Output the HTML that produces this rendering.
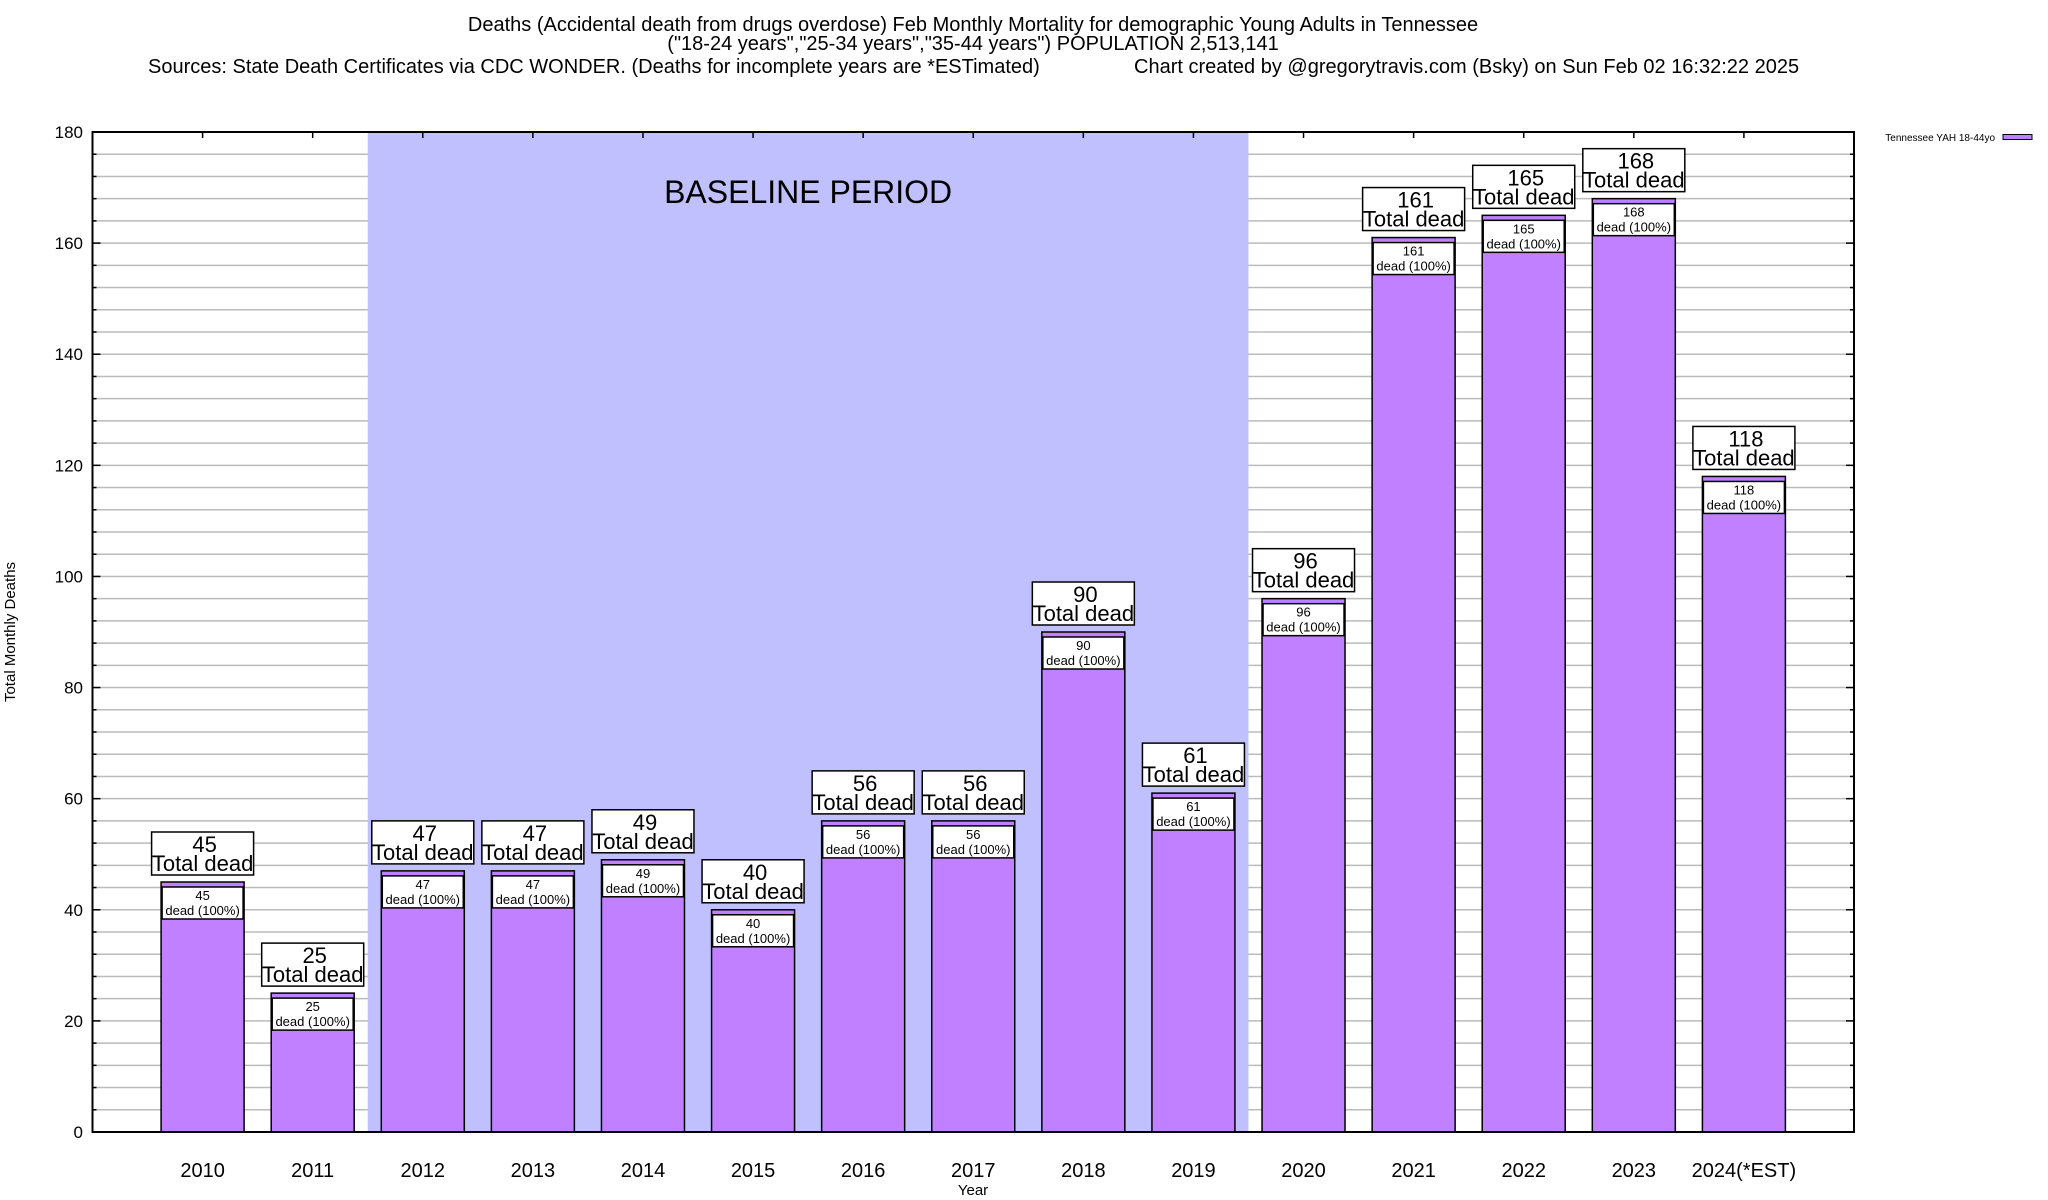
<!DOCTYPE html>
<html><head><meta charset="utf-8"><style>
html,body{margin:0;padding:0;background:#fff;}
svg{display:block;font-family:"Liberation Sans",Arial,sans-serif;}
</style></head><body>
<svg id="chart" width="2048" height="1200" viewBox="0 0 2048 1200" xmlns="http://www.w3.org/2000/svg">
<rect width="2048" height="1200" fill="#fff"/>
<g font-size="20" fill="#000">
<text x="973" y="31" text-anchor="middle">Deaths (Accidental death from drugs overdose) Feb Monthly Mortality for demographic Young Adults in Tennessee</text>
<text x="973" y="50" text-anchor="middle">("18-24 years","25-34 years","35-44 years") POPULATION 2,513,141</text>
<text x="148" y="73">Sources: State Death Certificates via CDC WONDER. (Deaths for incomplete years are *ESTimated)</text>
<text x="1134" y="73">Chart created by @gregorytravis.com (Bsky) on Sun Feb 02 16:32:22 2025</text>
</g>
<g id="grid"></g>
<g id="bars"></g>
<rect x="92.5" y="132" width="1761.5" height="1000" fill="none" stroke="#000" stroke-width="2"/>
<g id="axes"></g>
<text x="15" y="632" font-size="15" text-anchor="middle" transform="rotate(-90 15 632)">Total Monthly Deaths</text>
<text x="973" y="1195" font-size="15" text-anchor="middle">Year</text>
<g>
<text x="1995" y="141" font-size="10" text-anchor="end">Tennessee YAH 18-44yo</text>
<rect x="2003" y="134.5" width="29" height="5" fill="#c080ff" stroke="#000" stroke-width="1"/>
</g>
</svg>
<script>
const categories = ["2010","2011","2012","2013","2014","2015","2016","2017","2018","2019","2020","2021","2022","2023","2024(*EST)"];
const deaths = [45,25,47,47,49,40,56,56,90,61,96,161,165,168,118];
const yTicks = [0,20,40,60,80,100,120,140,160,180];
const baselineRange = [1.5, 9.5];
const baselineLabel = "BASELINE PERIOD";

const NS = "http://www.w3.org/2000/svg";
const L = 92.5, R = 1854, T = 132, B = 1132;
const yMax = 180;
function xs(i){ return L + (i + 1) * (R - L) / (categories.length + 1); }
function ys(v){ return B - v * (B - T) / yMax; }
function mk(tag, attrs, parent, txt){
  const e = document.createElementNS(NS, tag);
  for (const k in attrs) e.setAttribute(k, attrs[k]);
  if (txt !== undefined) e.textContent = txt;
  parent.appendChild(e);
  return e;
}
const grid = document.getElementById('grid');
const bars = document.getElementById('bars');
const axes = document.getElementById('axes');

for (let v = 4; v < yMax; v += 4) {
  const g = mk('line', {x1:L, x2:R, y1:ys(v), y2:ys(v), stroke:'#bbb', 'stroke-width':1.5}, grid);
  
  
}
const bx0 = L + (baselineRange[0] + 1) * (R - L) / (categories.length + 1);
const bx1 = L + (baselineRange[1] + 1) * (R - L) / (categories.length + 1);
const sh = mk('rect', {x:bx0, y:T, width:bx1-bx0, height:B-T, fill:'#c0c0ff'}, bars);


const bl = mk('text', {x:(bx0+bx1)/2, y:203, 'font-size':32, 'text-anchor':'middle'}, bars, baselineLabel);



const bw = 83;
categories.forEach((c, i) => {
  const v = deaths[i], cx = xs(i), top = ys(v);
  const r = mk('rect', {x:cx-bw/2, y:top, width:bw, height:B-top, fill:'#c080ff', stroke:'#000', 'stroke-width':1.5}, bars);
  
  
  const ib = mk('rect', {x:cx-bw/2+1, y:top+5, width:bw-2, height:32, fill:'#fff', stroke:'#000', 'stroke-width':1.5}, bars);
  
  
  const t1 = mk('text', {x:cx, y:top+18, 'font-size':13, 'text-anchor':'middle'}, bars, String(v));
  
  
  const t2 = mk('text', {x:cx, y:top+33, 'font-size':13, 'text-anchor':'middle'}, bars, 'dead (100%)');
  
  
  const ob = mk('rect', {x:cx-51, y:top-50, width:102, height:43, fill:'#fff', stroke:'#000', 'stroke-width':1.5}, bars);
  
  
  const o1 = mk('text', {x:cx+2, y:top-30, 'font-size':22, 'text-anchor':'middle'}, bars, String(v));
  
  
  const o2 = mk('text', {x:cx, y:top-11, 'font-size':22, 'text-anchor':'middle'}, bars, 'Total dead');
  
  
  const xl = mk('text', {x:cx, y:1177, 'font-size':20, 'text-anchor':'middle'}, axes, c);
  
  
  const tk = mk('line', {x1:cx, x2:cx, y1:T, y2:T+6, stroke:'#000', 'stroke-width':1.5}, axes);
  
  
});
yTicks.forEach(v => {
  const yl = mk('text', {x:83, y:ys(v)+6, 'font-size':17, 'text-anchor':'end'}, axes, String(v));
  
  
});
for (let v = 4; v < yMax; v += 4) {
  const len = (v % 20 === 0) ? 8 : 4;
  const a = mk('line', {x1:L, x2:L+len, y1:ys(v), y2:ys(v), stroke:'#000', 'stroke-width':1.5}, axes);
  
  
  const b = mk('line', {x1:R-len, x2:R, y1:ys(v), y2:ys(v), stroke:'#000', 'stroke-width':1.5}, axes);
  
  
}
</script>
</body></html>
